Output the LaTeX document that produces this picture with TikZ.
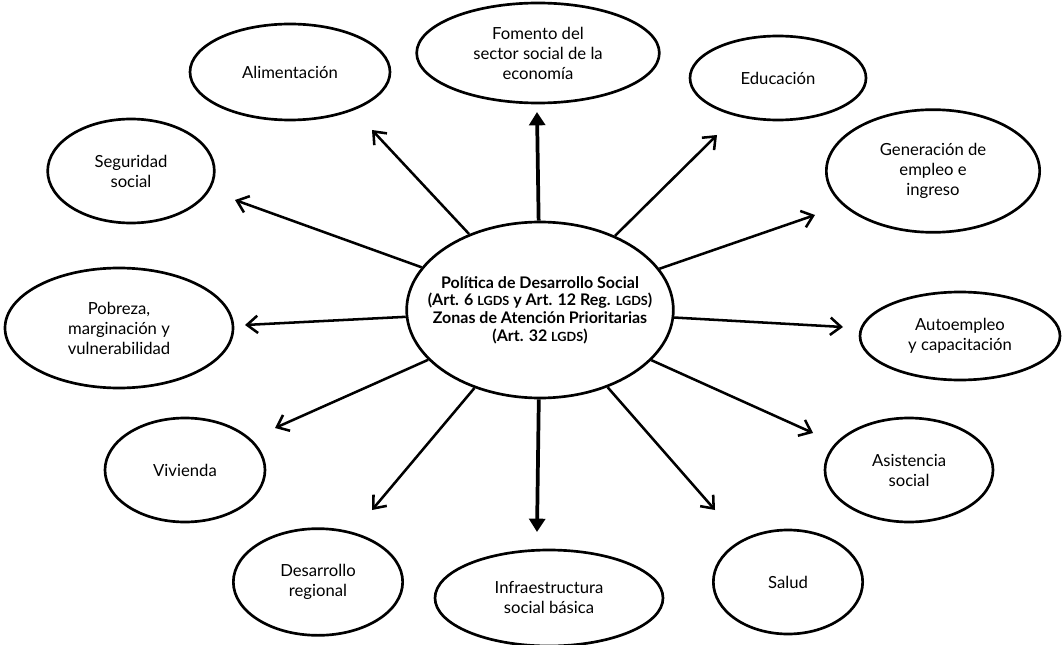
\documentclass[tikz,border=0pt]{standalone}
\usepackage{fontspec}
\setmainfont{Lato}
\usetikzlibrary{shapes.geometric,arrows.meta}
\tikzset{
  tema/.style={draw,ellipse,line width=2pt,inner sep=0pt,align=center,
    font=\fontsize{12.5}{15}\selectfont},
  tam/.style 2 args={minimum width=#1,minimum height=#2},
  flecha/.style={line width=1.9pt,-{Straight Barb[length=8pt,width=13pt,line width=1.9pt]}},
  eje/.style={line width=2.8pt,-{Triangle[length=10pt,width=12pt]}}
}
\newcommand{\lgds}{{\fontsize{9.5}{11}\selectfont LGDS}}

\begin{document}
\begin{tikzpicture}[x=0.75pt,y=-0.75pt]
  \useasboundingbox (0,0) rectangle (1062,645);

  \node[tema,tam={200pt}{132pt},inner xsep=-26pt,font=\bfseries\fontsize{12}{13.3}\selectfont] (pol) at (540,310)
    {Política de Desarrollo Social\\(Art. 6 \lgds{} y Art. 12 Reg. \lgds)\\Zonas de Atención Prioritarias\\(Art. 32 \lgds)};

  \node[tema,tam={182pt}{75pt}] (fom) at (538,53) {Fomento del\\sector social de la\\economía};
  \node[tema,tam={150pt}{72pt}] (ali) at (290,72) {Alimentación};
  \node[tema,tam={132pt}{63pt}] (edu) at (778,78) {Educación};
  \node[tema,tam={160pt}{92pt}] (gen) at (933,171) {Generación de\\empleo e\\ingreso};
  \node[tema,tam={125pt}{78pt}] (seg) at (131,171) {Seguridad\\social};
  \node[tema,tam={171pt}{90pt}] (pob) at (119,328) {Pobreza,\\marginación y\\vulnerabilidad};
  \node[tema,tam={150pt}{66pt}] (aut) at (960,336) {Autoempleo\\y capacitación};
  \node[tema,tam={120pt}{78pt}] (viv) at (185,470) {Vivienda};
  \node[tema,tam={126pt}{78pt}] (asi) at (909,470) {Asistencia\\social};
  \node[tema,tam={127pt}{80pt}] (des) at (318,582) {Desarrollo\\regional};
  \node[tema,tam={171pt}{72pt}] (inf) at (549,598) {Infraestructura\\social básica};
  \node[tema,tam={112pt}{78pt}] (sal) at (788,582) {Salud};

  \coordinate (p-fom) at (537,112);
  \coordinate (p-inf) at (537,532);
  \coordinate (p-ali) at (372,130);
  \coordinate (p-edu) at (717,135);
  \coordinate (p-gen) at (815,215);
  \coordinate (p-aut) at (843,327);
  \coordinate (p-asi) at (813,433);
  \coordinate (p-sal) at (715,510);
  \coordinate (p-des) at (372,510);
  \coordinate (p-viv) at (275,428);
  \coordinate (p-pob) at (245,325);
  \coordinate (p-seg) at (235,200);

  \draw[eje] (pol) -- (p-fom);
  \draw[eje] (pol) -- (p-inf);
  \foreach \t in {ali,edu,gen,aut,asi,sal,des,viv,pob,seg}
    \draw[flecha] (pol) -- (p-\t);
\end{tikzpicture}
\end{document}
